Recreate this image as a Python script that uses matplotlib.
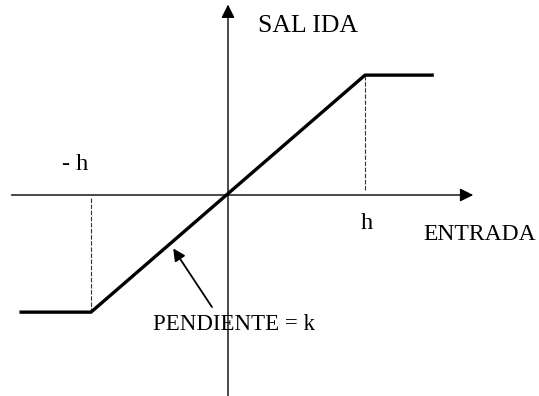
import matplotlib.pyplot as plt

# saturation curve (h = 1)
entrada = [-1.51, -1.0, 1.0, 1.49]
salida = [-0.855, -0.855, 0.875, 0.875]
h_marks = [-1.0, 1.0]

plt.rcParams['font.family'] = ['Liberation Serif', 'DejaVu Serif']

fig = plt.figure(figsize=(5.39, 3.96), dpi=100)
ax = fig.add_axes([0, 0, 1, 1])
ax.set_xlim(-228/137, 311/137)
ax.set_ylim(-201/137, 195/137)
ax.axis('off')

# axes with arrows
ax.annotate('', xy=(1.79, 0), xytext=(-1.58, 0),
            arrowprops=dict(arrowstyle='-|>', lw=1, color='k', mutation_scale=20, shrinkA=0, shrinkB=0))
ax.annotate('', xy=(0, 1.39), xytext=(0, -1.47),
            arrowprops=dict(arrowstyle='-|>', lw=1, color='k', mutation_scale=20, shrinkA=0, shrinkB=0))

# dashed guides at -h and h
for i, hx in enumerate(h_marks):
    sy = salida[1] if hx < 0 else salida[2]
    ax.plot([hx, hx], [-0.02 if hx < 0 else 0.04, sy], color='#333333', lw=0.8, ls=(0, (4, 1.5)))

ax.plot(entrada, salida, color='k', lw=2.4, solid_joinstyle='miter')

ax.text(0.219, 1.19, 'SAL IDA', fontsize=18.5, va='baseline')
ax.text(-1.212, 0.182, '- h', fontsize=17.5, va='baseline')
ax.text(0.971, -0.248, 'h', fontsize=17.5, va='baseline')
ax.text(1.423, -0.328, 'ENTRADA', fontsize=17, va='baseline')
ax.text(-0.547, -0.985, 'PENDIENTE = k', fontsize=16.5, va='baseline')

ax.annotate('', xy=(-0.40, -0.39), xytext=(-0.117, -0.818),
            arrowprops=dict(arrowstyle='-|>', lw=1.3, color='k', mutation_scale=18, shrinkA=0, shrinkB=0))

fig.savefig('out.png', dpi=100)
